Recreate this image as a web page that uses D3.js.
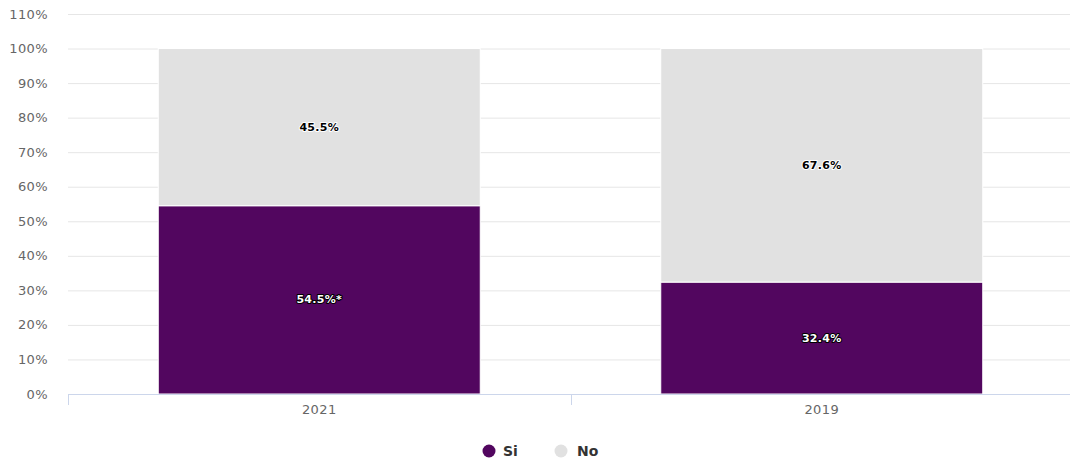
<!DOCTYPE html>
<html><head><meta charset="utf-8">
<script src="https://cdn.jsdelivr.net/npm/d3@7"></script>
<style>body{margin:0;background:#fff}svg{display:block}</style>
</head><body>
<svg id="c" width="1070" height="464"></svg>
<script>
const categories = ["2021", "2019"];
const seriesNames = ["Si", "No"];
const siValues = [54.5, 32.4];
const noValues = [45.5, 67.6];
const siLabels = ["54.5%*", "32.4%"];
const noLabels = ["45.5%", "67.6%"];
const yTicks = [0,10,20,30,40,50,60,70,80,90,100,110];
const colors = {Si: "#52065f", No: "#e1e1e1"};

const svg = d3.select("#c");
const m = {l: 68, r: 1073, t: 14, b: 394};
const x = d3.scaleBand().domain(categories).range([m.l, m.r]).paddingInner(0).paddingOuter(0);
const y = d3.scaleLinear().domain([0, 110]).range([m.b, m.t]);
const font = "DejaVu Sans, Verdana, sans-serif";

// gridlines
svg.append("g").selectAll("line").data(yTicks.filter(d=>d>0)).join("line")
  .attr("x1", m.l).attr("x2", 1070).attr("y1", d=>y(d)+0.5).attr("y2", d=>y(d)+0.5)
  .attr("stroke", "#e6e6e6").attr("stroke-width", 1);
// y labels
svg.append("g").selectAll("text").data(yTicks).join("text")
  .attr("x", 48).attr("y", d=>y(d)+4.5).attr("text-anchor","end")
  .attr("font-family", font).attr("font-size", 13).attr("letter-spacing", 0.4).attr("fill", "#666")
  .text(d=>d+"%");

const stack = categories.map((c,i)=>({cat:c, si:siValues[i], no:noValues[i], siL:siLabels[i], noL:noLabels[i]}));
const bw = 322;
const g = svg.append("g");
stack.forEach(d=>{
  const cx = x(d.cat) + x.bandwidth()/2;
  g.append("rect").attr("x", cx-bw/2).attr("width", bw)
    .attr("y", y(d.si)).attr("height", y(0)-y(d.si))
    .attr("fill", colors.Si).attr("stroke","#fff").attr("stroke-width",1);
  g.append("rect").attr("x", cx-bw/2).attr("width", bw)
    .attr("y", y(d.si+d.no)).attr("height", y(d.si)-y(d.si+d.no))
    .attr("fill", colors.No).attr("stroke","#fff").attr("stroke-width",1);
  // labels
  const ly1 = (y(0)+y(d.si))/2 + 3.5;
  g.append("text").attr("x", cx).attr("y", ly1).attr("text-anchor","middle")
    .attr("font-family", font).attr("font-size", 11).attr("font-weight","bold").attr("letter-spacing", 0.3)
    .attr("fill","#fff").attr("stroke","#000").attr("stroke-width",2).attr("paint-order","stroke")
    .attr("stroke-linejoin","round").text(d.siL);
  const ly2 = (y(d.si)+y(d.si+d.no))/2 + 3.5;
  g.append("text").attr("x", cx).attr("y", ly2).attr("text-anchor","middle")
    .attr("font-family", font).attr("font-size", 11).attr("font-weight","bold").attr("letter-spacing", 0.3)
    .attr("fill","#000").attr("stroke","#fff").attr("stroke-width",2).attr("paint-order","stroke")
    .attr("stroke-linejoin","round").text(d.noL);
});

// x axis
svg.append("line").attr("x1", m.l).attr("x2", 1070).attr("y1", m.b+0.5).attr("y2", m.b+0.5)
  .attr("stroke","#ccd6eb").attr("stroke-width",1);
const tickPos = categories.map(c=>x(c)).concat([x(categories[categories.length-1])+x.bandwidth()]);
svg.append("g").selectAll("line").data(tickPos).join("line")
  .attr("x1", d=>Math.round(d)+0.5).attr("x2", d=>Math.round(d)+0.5)
  .attr("y1", m.b).attr("y2", m.b+11).attr("stroke","#ccd6eb");
svg.append("g").selectAll("text").data(categories).join("text")
  .attr("x", d=>x(d)+x.bandwidth()/2).attr("y", 414).attr("text-anchor","middle")
  .attr("font-family", font).attr("font-size", 13).attr("letter-spacing", 0.4).attr("fill","#666").text(d=>d);

// legend
const leg = [{n:"Si", cx:489, tx:503}, {n:"No", cx:561, tx:577}];
leg.forEach(l=>{
  svg.append("circle").attr("cx", l.cx).attr("cy", 451).attr("r", 6.5).attr("fill", colors[l.n]);
  svg.append("text").attr("x", l.tx).attr("y", 456).attr("font-family", font)
    .attr("font-size", 14).attr("font-weight","bold").attr("fill","#333").text(l.n);
});
</script>
</body></html>
